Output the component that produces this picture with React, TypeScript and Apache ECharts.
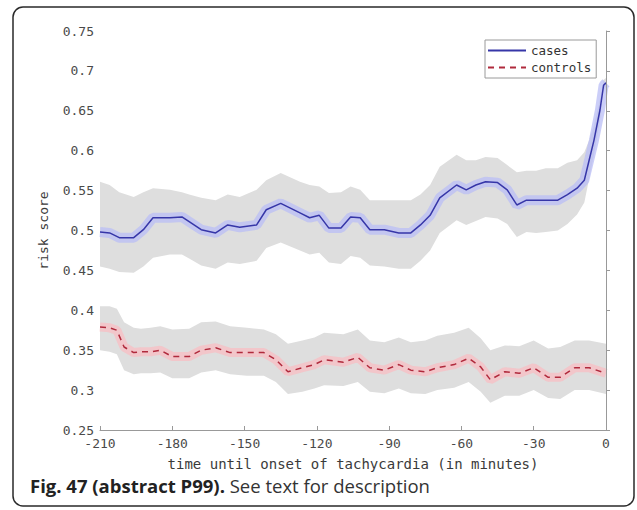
import React, { useEffect, useRef } from "react";
import * as echarts from "echarts";

// ---- data ----
const casesTime = [-210, -206, -202, -196, -192, -188, -181, -176, -173, -168, -162, -157, -152, -145, -141, -135, -127, -123, -119, -115, -110, -106, -102, -98, -92, -86, -81, -77, -73, -69, -62, -58, -54, -50, -45, -41, -37, -33, -29, -25, -20, -16, -12, -9, -7, -5, -2.5, -1, 0];
const casesMean = [0.498, 0.497, 0.491, 0.491, 0.501, 0.516, 0.516, 0.517, 0.511, 0.501, 0.497, 0.507, 0.504, 0.507, 0.526, 0.534, 0.522, 0.516, 0.519, 0.503, 0.503, 0.517, 0.516, 0.501, 0.501, 0.497, 0.497, 0.507, 0.519, 0.541, 0.557, 0.551, 0.557, 0.561, 0.56, 0.551, 0.532, 0.538, 0.538, 0.538, 0.538, 0.545, 0.553, 0.563, 0.588, 0.613, 0.651, 0.682, 0.685];
const casesUpper = [0.561, 0.557, 0.548, 0.542, 0.548, 0.553, 0.551, 0.548, 0.545, 0.541, 0.538, 0.545, 0.542, 0.551, 0.563, 0.572, 0.561, 0.557, 0.555, 0.547, 0.548, 0.555, 0.551, 0.538, 0.538, 0.538, 0.538, 0.545, 0.557, 0.58, 0.595, 0.588, 0.588, 0.592, 0.591, 0.582, 0.573, 0.575, 0.575, 0.578, 0.578, 0.585, 0.588, 0.598, 0.613, 0.632, 0.664, 0.689, 0.691];
const casesLower = [0.455, 0.452, 0.448, 0.447, 0.455, 0.466, 0.47, 0.47, 0.465, 0.456, 0.452, 0.46, 0.458, 0.462, 0.478, 0.485, 0.475, 0.47, 0.472, 0.46, 0.458, 0.468, 0.466, 0.456, 0.455, 0.452, 0.452, 0.462, 0.475, 0.497, 0.513, 0.507, 0.512, 0.517, 0.515, 0.508, 0.492, 0.498, 0.497, 0.498, 0.5, 0.508, 0.52, 0.535, 0.565, 0.595, 0.638, 0.676, 0.68];

const controlsTime = [-210, -206, -203, -200, -196, -193, -189, -185, -180, -173, -168, -162, -156, -149, -142, -137, -132, -126, -121, -117, -109, -103, -98, -92, -86, -81, -75, -70, -63, -57, -52, -48, -42, -36, -30, -24, -19, -13, -7, 0];
const controlsMean = [0.379, 0.378, 0.375, 0.354, 0.347, 0.348, 0.348, 0.35, 0.342, 0.342, 0.35, 0.353, 0.347, 0.347, 0.347, 0.338, 0.323, 0.328, 0.332, 0.338, 0.335, 0.341, 0.328, 0.325, 0.332, 0.325, 0.323, 0.328, 0.332, 0.34, 0.329, 0.313, 0.323, 0.321, 0.328, 0.316, 0.316, 0.328, 0.328, 0.321];
const controlsUpper = [0.405, 0.405, 0.402, 0.385, 0.378, 0.377, 0.378, 0.38, 0.376, 0.377, 0.385, 0.386, 0.38, 0.378, 0.376, 0.37, 0.358, 0.362, 0.366, 0.372, 0.37, 0.376, 0.362, 0.36, 0.366, 0.36, 0.362, 0.368, 0.372, 0.378, 0.365, 0.35, 0.356, 0.355, 0.362, 0.352, 0.354, 0.362, 0.362, 0.358];
const controlsLower = [0.35, 0.348, 0.345, 0.325, 0.32, 0.321, 0.321, 0.322, 0.315, 0.315, 0.322, 0.325, 0.32, 0.318, 0.318, 0.31, 0.295, 0.298, 0.302, 0.306, 0.305, 0.31, 0.298, 0.296, 0.302, 0.296, 0.295, 0.3, 0.303, 0.31, 0.298, 0.284, 0.293, 0.293, 0.3, 0.29, 0.289, 0.3, 0.3, 0.295];

const xTicks = { min: -210, max: 0, interval: 30 };
const yTicks = { min: 0.25, max: 0.75, interval: 0.05 };
const seriesNames = ["cases", "controls"];
const xAxisTitle = "time until onset of tachycardia (in minutes)";
const yAxisTitle = "risk score";
const captionBold = "Fig. 47 (abstract P99).";
const captionText = "See text for description";

const FONT = "DejaVu Sans Mono";

function bandSeries(name: string, t: number[], lo: number[], hi: number[], color: string) {
  return {
    type: "custom",
    name,
    silent: true,
    z: 1,
    encode: { x: 0, y: [1, 2] },
    data: t.map((v, i) => [v, lo[i], hi[i]]),
    renderItem: (params: any, api: any) => {
      if (params.dataIndex !== 0) return null;
      const pts: number[][] = [];
      for (let i = 0; i < t.length; i++) pts.push(api.coord([t[i], hi[i]]));
      for (let i = t.length - 1; i >= 0; i--) pts.push(api.coord([t[i], lo[i]]));
      return { type: "polygon", shape: { points: pts }, style: { fill: color } };
    },
  };
}

export default function App() {
  const ref = useRef<HTMLDivElement>(null);
  useEffect(() => {
    if (!ref.current) return;
    const chart = echarts.init(ref.current, null, { renderer: "svg" });
    const casesData = casesTime.map((v, i) => [v, casesMean[i]]);
    const controlsData = controlsTime.map((v, i) => [v, controlsMean[i]]);
    chart.setOption({
      animation: false,
      backgroundColor: "#ffffff",
      grid: { left: 100, right: 31, top: 31, bottom: 80, containLabel: false },
      legend: {
        data: seriesNames,
        orient: "vertical",
        left: 485,
        top: 40,
        itemWidth: 38,
        itemHeight: 12,
        itemGap: 4,
        padding: [4, 5, 4, 2],
        borderColor: "#9a9a9a",
        borderWidth: 1,
        backgroundColor: "#ffffff",
        itemStyle: { opacity: 0 },
        textStyle: { fontFamily: FONT, fontSize: 12.5, color: "#333" },
      },
      xAxis: {
        type: "value",
        min: xTicks.min,
        max: xTicks.max,
        interval: xTicks.interval,
        name: xAxisTitle,
        nameLocation: "middle",
        nameGap: 27,
        nameTextStyle: { fontFamily: FONT, fontSize: 14, color: "#3a3a3a" },
        axisLine: { show: true, lineStyle: { color: "#999", width: 1 } },
        axisTick: { show: true, inside: true, length: 4, lineStyle: { color: "#999" } },
        axisLabel: { fontFamily: FONT, fontSize: 13, color: "#4a4a4a", margin: 7 },
        splitLine: { show: false },
        z: 10,
      },
      yAxis: {
        type: "value",
        min: yTicks.min,
        max: yTicks.max,
        interval: yTicks.interval,
        name: yAxisTitle,
        nameLocation: "middle",
        nameGap: 50,
        nameTextStyle: { fontFamily: FONT, fontSize: 13, color: "#3a3a3a" },
        axisLine: { show: true, lineStyle: { color: "#999", width: 1 } },
        axisTick: { show: true, inside: true, length: 4, lineStyle: { color: "#999" } },
        axisLabel: { fontFamily: FONT, fontSize: 13, color: "#4a4a4a", margin: 6 },
        splitLine: { show: false },
        z: 10,
      },
      graphic: [
        {
          type: "rect",
          shape: { x: 13, y: 7, width: 621, height: 499, r: 10 },
          style: { fill: "none", stroke: "#2a2a2a", lineWidth: 1.5 },
          silent: true,
        },
        {
          type: "text",
          style: {
            x: 30,
            y: 485,
            verticalAlign: "middle",
            text: `{b|${captionBold}\u00a0}{n|${captionText}}`,
            rich: {
              b: { fontFamily: "Open Sans", fontWeight: "bold", fontSize: 18.5, fill: "#222" },
              n: { fontFamily: "Open Sans", fontSize: 18.5, fill: "#333" },
            },
          },
        },
      ],
      series: [
        bandSeries("casesBand", casesTime, casesLower, casesUpper, "#dedede"),
        bandSeries("controlsBand", controlsTime, controlsLower, controlsUpper, "#dedede"),
        {
          type: "line",
          name: "casesHalo",
          data: casesData,
          symbol: "none",
          silent: true,
          z: 2,
          lineStyle: { color: "rgba(185,190,245,0.75)", width: 10 },
        },
        {
          type: "line",
          name: "controlsHalo",
          data: controlsData,
          symbol: "none",
          silent: true,
          z: 2,
          lineStyle: { color: "rgba(248,190,195,0.75)", width: 9 },
        },
        {
          type: "line",
          name: seriesNames[0],
          data: casesData,
          symbol: "none",
          z: 3,
          itemStyle: { color: "#3636a8" },
          lineStyle: { color: "#3636a8", width: 1.5 },
        },
        {
          type: "line",
          name: seriesNames[1],
          data: controlsData,
          symbol: "none",
          z: 3,
          itemStyle: { color: "#b02a3c" },
          lineStyle: { color: "#b02a3c", width: 1.5, type: [6, 5] },
        },
      ],
    });
    return () => chart.dispose();
  }, []);
  return <div ref={ref} style={{ position: "fixed", left: 0, top: 0, width: 637, height: 510 }} />;
}
